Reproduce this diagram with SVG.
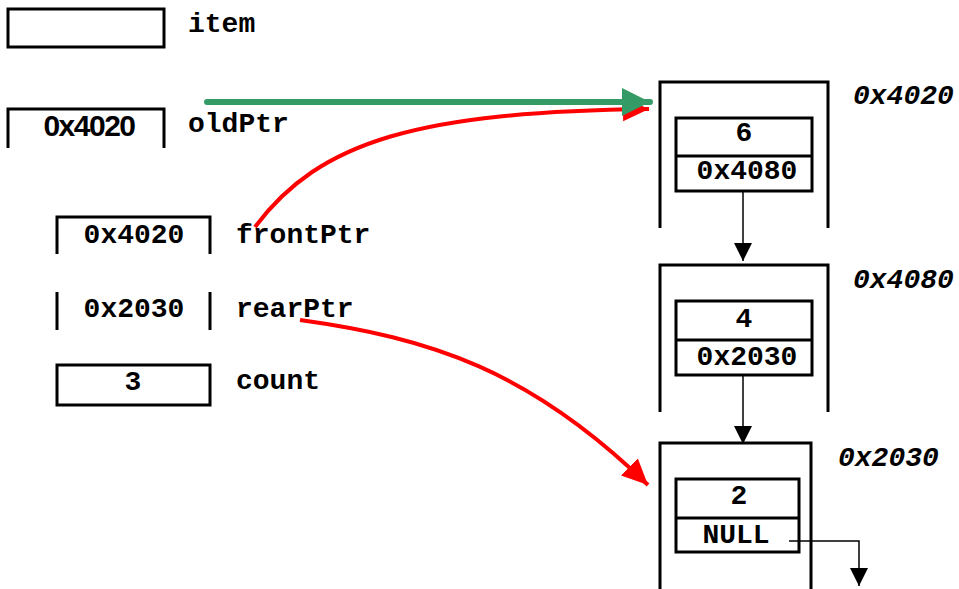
<svg xmlns="http://www.w3.org/2000/svg" width="959" height="589" viewBox="0 0 959 589">
<style>
.box{fill:none;stroke:#000;stroke-width:3}
.mono{font-family:"Liberation Mono","Courier New",monospace;font-weight:bold;font-size:28px;fill:#000}
.ital{font-family:"Liberation Mono","Courier New",monospace;font-weight:bold;font-style:italic;font-size:28px;fill:#000}
.sans{font-family:"Liberation Sans",Arial,sans-serif;font-weight:bold;font-size:30px;fill:#000;letter-spacing:-1.5px}
.mid{text-anchor:middle}
.blk{fill:none;stroke:#000;stroke-width:1.5}
</style>
<defs>
<marker id="ahB" markerUnits="userSpaceOnUse" markerWidth="20" markerHeight="20" viewBox="0 0 20 20" refX="18" refY="10" orient="auto"><path d="M0,1 L18,10 L0,19 Z" fill="#000"/></marker>
<marker id="ahG" markerUnits="userSpaceOnUse" markerWidth="30" markerHeight="30" viewBox="0 0 30 30" refX="28" refY="15" orient="auto"><path d="M0,1 L28,15 L0,29 Z" fill="#359b66"/></marker>
<marker id="ahR" markerUnits="userSpaceOnUse" markerWidth="30" markerHeight="30" viewBox="0 0 30 30" refX="26" refY="15" orient="auto"><path d="M0,3 L26,15 L0,27 Z" fill="#ff0000"/></marker>
</defs>
<g id="item">
<rect class="box" x="8" y="9" width="156" height="38"/>
<text class="mono" x="188" y="32">item</text>
</g>
<g id="oldPtr">
<path class="box" d="M8,148 V109 H164 V148"/>
<text class="sans mid" x="89" y="136">0x4020</text>
<text class="mono" x="188" y="132">oldPtr</text>
</g>
<g id="frontPtr">
<path class="box" d="M57,254 V217 H210 V254"/>
<text class="mono mid" x="134" y="243">0x4020</text>
<text class="mono" x="236" y="243">frontPtr</text>
</g>
<g id="rearPtr">
<path class="box" d="M57,292 V330 M210,292 V330"/>
<text class="mono mid" x="134" y="317">0x2030</text>
<text class="mono" x="236" y="317">rearPtr</text>
</g>
<g id="count">
<rect class="box" x="57" y="365" width="153" height="40"/>
<text class="mono mid" x="133" y="390">3</text>
<text class="mono" x="236" y="389">count</text>
</g>
<g id="node4020">
<path class="box" d="M660,228 V82 H828 V228"/>
<rect class="box" x="676" y="118" width="136" height="73" fill="#fff"/>
<line class="box" x1="676" y1="156" x2="812" y2="156"/>
<text class="mono mid" x="744" y="141">6</text>
<text class="mono mid" x="747" y="179">0x4080</text>
<text class="ital" x="853" y="104">0x4020</text>
</g>
<g id="node4080">
<path class="box" d="M660,412 V265 H828 V412"/>
<rect class="box" x="676" y="301" width="136" height="74" fill="#fff"/>
<line class="box" x1="676" y1="340" x2="812" y2="340"/>
<text class="mono mid" x="744" y="327">4</text>
<text class="mono mid" x="747" y="365">0x2030</text>
<text class="ital" x="853" y="288">0x4080</text>
</g>
<g id="node2030">
<path class="box" d="M660,589 V443 H811 V589"/>
<rect class="box" x="676" y="479" width="123" height="73" fill="#fff"/>
<line class="box" x1="676" y1="518" x2="799" y2="518"/>
<text class="mono mid" x="739" y="504">2</text>
<text class="mono mid" x="736" y="543">NULL</text>
<text class="ital" x="838" y="466">0x2030</text>
</g>
<g id="connectors">
<line class="blk" x1="743" y1="191" x2="743" y2="261" marker-end="url(#ahB)"/>
<line class="blk" x1="743" y1="375" x2="743" y2="444" marker-end="url(#ahB)"/>
<path class="blk" d="M789,541 H859 V586" marker-end="url(#ahB)"/>
<path d="M255,227 C320,140 420,112 649,109" fill="none" stroke="#ff0000" stroke-width="4" marker-end="url(#ahR)"/>
<path d="M300,320 C430,338 530,370 648,485" fill="none" stroke="#ff0000" stroke-width="4" marker-end="url(#ahR)"/>
<line x1="207" y1="102" x2="650" y2="102" stroke="#359b66" stroke-width="6" stroke-linecap="round" marker-end="url(#ahG)"/>
</g>
</svg>
